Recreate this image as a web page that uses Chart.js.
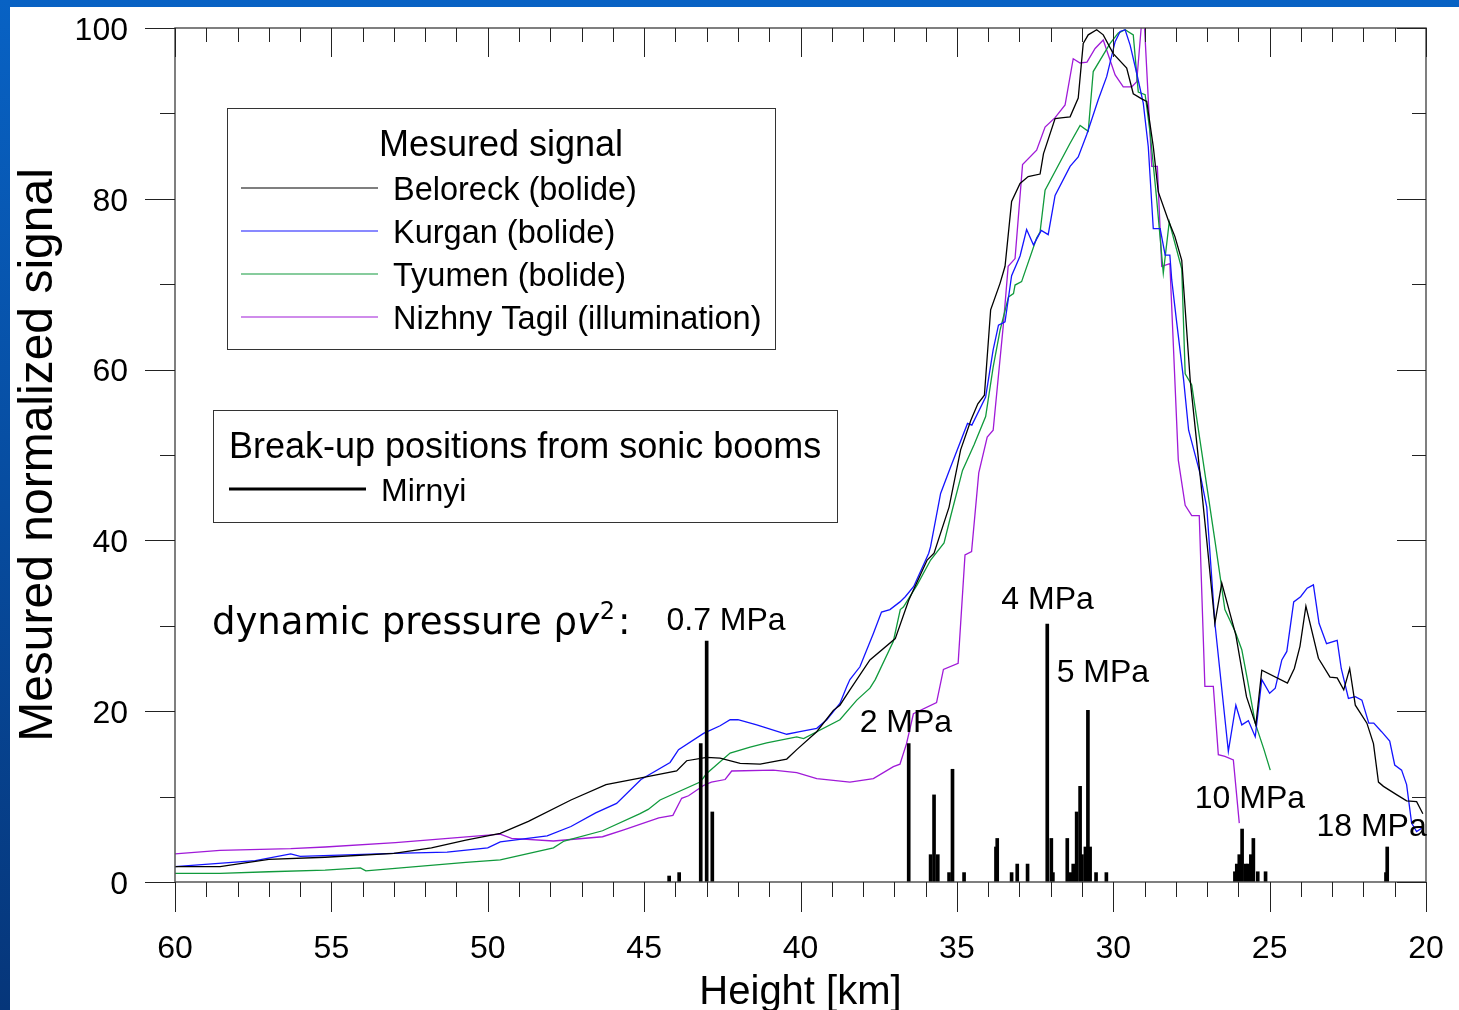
<!DOCTYPE html>
<html>
<head>
<meta charset="utf-8">
<title>Mesured normalized signal</title>
<script src="https://cdn.jsdelivr.net/npm/chart.js@4.4.0/dist/chart.umd.min.js"></script>
<style>
html,body{margin:0;padding:0;}
body{width:1459px;height:1010px;position:relative;overflow:hidden;background:linear-gradient(#0862c4,#06367a);}
#paper{position:absolute;left:10px;top:7px;right:0;bottom:0;background:#fff;}
#wrap{position:absolute;left:0;top:0;width:1459px;height:1010px;}
</style>
</head>
<body>
<div id="paper"></div>
<div id="wrap"><canvas id="myChart" width="1459" height="1010"></canvas></div>
<script>
// heights in km, signal in % of max
let belH = [60,58.56,57,55.2,53,51.8,50.7,49.6,48.7,47.34,46.22,45.1,43.96,43.64,43.0,42.57,41.93,41.29,40.44,40.12,39.48,38.95,38.74,38.42,37.78,36.97,36.54,35.95,35.73,35.25,34.88,34.55,34.33,34.12,33.92,33.62,33.46,33.25,32.98,32.72,32.34,32.23,31.86,31.6,31.38,31.12,30.96,30.8,30.53,30.32,30.0,29.57,29.36,29.09,28.93,28.72,28.56,28.24,28.03,27.81,27.54,27.23,27.01,26.75,26.53,26.08,25.74,25.44,25.25,24.43,24.21,24.03,23.84,23.44,23.07,22.84,22.63,22.44,22.26,21.89,21.68,21.52,21.36,20.93,20.62,20.3,20.1]
let belV = [1.8,1.8,2.65,2.9,3.35,4.0,4.9,5.7,7.1,9.6,11.4,12.2,13.0,14.2,14.6,14.5,13.9,13.8,14.4,15.5,17.6,20.1,20.7,22.5,26.0,28.5,33.0,37.7,38.5,43.9,50.6,54.1,56.0,57.0,67.0,70.1,72.1,79.7,81.8,82.6,82.9,85.3,89.4,89.5,89.6,91.8,98.2,99.2,99.8,99.2,97.0,95.3,92.3,91.7,91.4,86.1,80.8,77.5,75.6,72.8,58.8,47.9,40.0,30.3,35.0,28.9,21.7,18.4,24.8,23.3,25.0,27.6,32.3,26.2,24.0,23.9,22.5,25.0,20.7,18.6,16.2,11.7,11.2,10.2,9.5,9.4,8.0]

let kurH = [60,57.43,56.3,56.0,53,51.3,50.0,49.6,48.1,47.34,46.55,45.88,45.1,44.17,43.9,43.1,42.57,42.25,42.0,41.4,40.44,40.02,39.48,39.16,38.74,38.52,38.42,38.1,37.67,37.41,37.14,36.82,36.65,36.38,35.9,35.84,35.52,35.2,34.66,34.52,34.08,33.84,33.67,33.46,33.25,32.98,32.77,32.55,32.3,32.08,31.86,31.38,31.12,30.85,30.48,30.21,29.94,29.78,29.62,29.46,29.25,29.04,28.88,28.72,28.5,28.34,28.19,28.13,27.98,27.75,27.59,27.23,27.01,26.75,26.32,26.08,25.89,25.68,25.46,25.25,25.0,24.82,24.61,24.45,24.23,24.01,23.8,23.6,23.42,23.18,22.84,22.71,22.48,22.26,22.05,21.83,21.67,21.42,21.16,21.0,20.78,20.62,20.46,20.3,20.14]
let kurV = [1.8,2.5,3.3,3.0,3.35,3.5,4.0,4.7,5.4,6.5,8.1,9.2,12.0,14.0,15.5,17.4,18.3,19.0,19.0,18.4,17.3,17.6,18.0,19.0,20.9,22.9,23.7,25.2,29.1,31.6,31.9,32.8,33.4,34.6,38.5,39.3,45.5,48.6,53.7,53.5,56.8,62.3,65.2,65.6,71.0,73.3,76.4,74.6,76.3,75.8,80.4,83.8,84.9,87.5,91.6,94.3,98.4,99.6,99.8,98.0,94.7,91.2,86.1,76.5,76.5,73.4,73.4,70.5,65.8,58.8,52.9,47.9,43.9,30.3,15.3,20.7,18.4,18.9,17.0,23.7,22.1,22.7,26.0,27.0,32.8,33.4,34.4,34.8,30.3,27.9,28.3,25.0,21.5,21.7,21.3,18.6,18.6,17.6,16.5,13.7,13.1,11.4,6.9,5.9,6.3]

let tyuH = [60,58.56,57.0,55.2,54.07,53.9,50.7,49.6,47.9,47.56,46.33,45.13,44.87,44.49,43.21,43.0,42.25,41.61,41.08,40.12,39.9,38.74,38.2,37.78,37.61,37.03,36.81,36.71,36.27,35.84,35.41,35.2,34.82,34.45,34.08,33.84,33.62,33.35,33.19,33.14,32.93,32.45,32.34,32.18,31.38,31.06,30.8,30.64,30.1,29.84,29.62,29.36,29.2,28.98,28.82,28.61,28.4,28.21,27.81,27.7,27.49,27.23,26.75,26.43,26.1,25.89,25.71,25.46,25.18,24.98]
let tyuV = [1.0,1.0,1.2,1.4,1.65,1.3,2.3,2.6,4.0,4.8,6.0,8.0,8.5,9.6,11.7,12.7,15.1,15.8,16.3,17.0,16.8,19.0,21.3,22.7,23.7,28.2,31.9,32.2,34.8,37.7,39.7,42.8,48.2,51.2,54.5,60.3,64.6,68.5,68.9,69.9,70.3,75.4,76.1,81.0,86.5,88.6,87.9,94.9,98.2,99.4,99.8,99.2,92.5,92.2,87.7,79.9,71.3,77.3,71.8,59.5,58.2,51.8,40.0,31.9,29.3,27.2,23.7,18.6,15.5,13.1]

let tagH = [60,58.56,56.3,55.2,52.95,51.27,49.6,49.24,47.9,46.33,45.65,44.53,44.08,43.8,43.58,43.1,42.85,42.41,42.2,40.87,40.12,39.48,38.42,37.67,37.03,36.82,36.61,36.39,35.65,35.43,34.96,34.74,34.53,34.3,34.03,33.84,33.52,33.36,33.14,32.9,32.45,32.18,31.86,31.54,31.28,31.06,30.84,30.58,30.32,29.94,29.68,29.41,29.25,29.04,28.77,28.59,28.45,28.19,27.92,27.7,27.49,27.25,27.07,26.8,26.64,26.43,26.16,25.97]
let tagV = [3.3,3.7,3.9,4.1,4.6,5.1,5.6,5.1,4.8,5.3,6.1,7.5,7.8,9.8,10.1,11.3,11.7,12.0,13.0,13.1,12.8,12.1,11.7,12.1,13.5,13.8,16.2,19.7,21.0,24.9,25.6,38.3,38.7,47.9,52.1,52.9,65.0,72.1,73.0,84.0,85.7,88.4,89.5,91.0,96.4,95.9,96.0,97.6,98.6,94.5,93.1,93.1,93.7,103,83.8,83.8,72.1,72.4,49.4,44.1,42.9,42.9,22.9,22.9,14.9,14.7,14.3,6.9]

// break-up positions (Mirnyi)
let mirH = [44.2,43.88,43.19,43.0,42.82,36.54,35.84,35.73,35.61,35.25,35.14,34.77,33.75,33.71,33.25,33.07,32.74,32.11,31.98,31.93,31.47,31.36,31.28,31.17,31.06,31.0,30.89,30.81,30.74,30.55,30.22,26.11,26.05,25.97,25.88,25.77,25.68,25.6,25.52,25.38,25.13,21.28,21.24]
let mirV = [0.7,1.1,16.2,28.2,8.2,16.2,3.2,10.2,3.2,1.1,13.2,1.1,4.1,5.1,1.1,2.1,2.1,30.2,5.1,1.1,5.1,1.1,2.1,8.2,11.2,3.2,4.1,20.1,4.1,1.1,1.1,1.2,2.1,3.2,6.2,2.1,2.1,3.2,5.1,1.2,1.2,1.1,4.1]

let pressText = ['0.7 MPa','2 MPa','4 MPa','5 MPa','10 MPa','18 MPa']
let pressH = [42.38,36.63,32.10,30.33,25.63,21.74]
let pressV = [30.55,18.6,33.05,24.45,9.75,6.42]

let xTickStep = 5
let yTickStep = 20

const FONT = '"Liberation Sans", Arial, Helvetica, sans-serif'
Chart.defaults.font.family = FONT
Chart.defaults.color = '#000'

let pares = (hs, vs) => hs.map((h, i) => ({x: h, y: vs[i]}))

let serie = (label, hs, vs, color) => ({
    type: 'line',
    label: label,
    data: pares(hs, vs),
    borderColor: color,
    backgroundColor: color,
    borderWidth: 1.3,
    pointRadius: 0,
    tension: 0,
    fill: false,
    order: 1
})

let sinPadding = (s) => {
    s.paddingTop = 0
    s.paddingBottom = 0
    s.paddingLeft = 0
    s.paddingRight = 0
}

const decor = {
    id: 'decor',
    afterDraw(chart) {
        const ctx = chart.ctx
        const a = chart.chartArea
        const xs = chart.scales.x
        const ys = chart.scales.y
        ctx.save()
        // frame
        ctx.strokeStyle = '#555'
        ctx.lineWidth = 1.5
        ctx.strokeRect(a.left, a.top, a.right - a.left, a.bottom - a.top)
        // ticks
        ctx.strokeStyle = '#222'
        ctx.lineWidth = 1
        ctx.beginPath()
        for (let h = xs.min; h <= xs.max; h++) {
            const px = Math.round(xs.getPixelForValue(h)) + 0.5
            const big = h % 5 === 0
            ctx.moveTo(px, a.bottom); ctx.lineTo(px, a.bottom + (big ? 30 : 15))
            ctx.moveTo(px, a.top); ctx.lineTo(px, a.top + (big ? 29 : 14))
        }
        for (let v = ys.min; v <= ys.max; v += 10) {
            const py = Math.round(ys.getPixelForValue(v)) + 0.5
            const big = v % 20 === 0
            ctx.moveTo(a.left - (big ? 30 : 15), py); ctx.lineTo(a.left, py)
            ctx.moveTo(a.right - (big ? 29 : 14), py); ctx.lineTo(a.right, py)
        }
        ctx.stroke()

        // legend 1
        const ds = chart.data.datasets
        ctx.strokeStyle = '#333'
        ctx.lineWidth = 1
        ctx.strokeRect(227.5, 108.5, 548, 241)
        ctx.fillStyle = '#000'
        ctx.textBaseline = 'middle'
        ctx.textAlign = 'center'
        ctx.font = '36px ' + FONT
        ctx.fillText('Mesured signal', 501, 146)
        ctx.textAlign = 'left'
        ctx.font = '32.5px ' + FONT
        for (let i = 0; i < 4; i++) {
            const yy = 188 + i * 43
            ctx.strokeStyle = ds[i].borderColor
            ctx.lineWidth = 1.2
            ctx.beginPath(); ctx.moveTo(241, yy); ctx.lineTo(378, yy); ctx.stroke()
            ctx.fillText(ds[i].label, 393, yy + 3)
        }
        // legend 2
        ctx.strokeStyle = '#333'
        ctx.lineWidth = 1
        ctx.strokeRect(213.5, 410.5, 624, 112)
        ctx.font = '36px ' + FONT
        ctx.fillText('Break-up positions from sonic booms', 229, 448)
        ctx.strokeStyle = '#000'
        ctx.lineWidth = 3
        ctx.beginPath(); ctx.moveTo(229, 489); ctx.lineTo(366, 489); ctx.stroke()
        ctx.font = '32px ' + FONT
        ctx.fillText(ds[4].label, 381, 492)

        // pressure labels
        ctx.textAlign = 'center'
        for (let i = 0; i < pressText.length; i++) {
            ctx.fillText(pressText[i], xs.getPixelForValue(pressH[i]), ys.getPixelForValue(pressV[i]))
        }
        // dynamic pressure
        ctx.textAlign = 'left'
        let x0 = xs.getPixelForValue(58.82)
        const y0 = ys.getPixelForValue(30.15)
        ctx.font = '37px "DejaVu Sans", sans-serif'
        const t1 = 'dynamic pressure \u03C1'
        ctx.fillText(t1, x0, y0)
        x0 += ctx.measureText(t1).width
        ctx.font = 'italic 37px "DejaVu Sans", sans-serif'
        ctx.fillText('v', x0, y0)
        x0 += ctx.measureText('v').width + 1
        ctx.font = '24px "DejaVu Sans", sans-serif'
        ctx.fillText('2', x0, y0 - 12)
        x0 += ctx.measureText('2').width + 3
        ctx.font = '37px "DejaVu Sans", sans-serif'
        ctx.fillText(':', x0, y0)
        ctx.restore()
    }
}

const config = {
    type: 'line',
    data: {
        datasets: [
            serie('Beloreck (bolide)', belH, belV, '#000000'),
            serie('Kurgan (bolide)', kurH, kurV, '#1414ff'),
            serie('Tyumen (bolide)', tyuH, tyuV, '#109a3c'),
            serie('Nizhny Tagil (illumination)', tagH, tagV, '#a01ad8'),
            {
                type: 'bar',
                label: 'Mirnyi',
                data: pares(mirH, mirV),
                backgroundColor: '#000',
                borderWidth: 0,
                barThickness: 3,
                order: 0
            }
        ]
    },
    options: {
        responsive: false,
        animation: false,
        events: [],
        layout: {padding: {top: 28, right: 33, left: 0, bottom: 0}},
        plugins: {legend: {display: false}, tooltip: {enabled: false}},
        scales: {
            x: {
                type: 'linear',
                min: 20, max: 60,
                reverse: true,
                offset: false,
                grid: {display: false, drawTicks: false},
                border: {display: false},
                ticks: {stepSize: xTickStep, padding: 48, maxRotation: 0, autoSkip: false, font: {size: 32}},
                title: {display: true, text: 'Height [km]', font: {size: 40, lineHeight: 0.8}, padding: {top: 0, bottom: 1}},
                afterFit: (s) => { s.height = 128; sinPadding(s) }
            },
            y: {
                type: 'linear',
                min: 0, max: 100,
                grid: {display: false, drawTicks: false},
                border: {display: false},
                ticks: {stepSize: yTickStep, padding: 47, labelOffset: 3, font: {size: 32}},
                title: {display: true, text: 'Mesured normalized signal', font: {size: 48, lineHeight: 1}, padding: {top: 15, bottom: 0}},
                afterFit: (s) => { s.width = 175; sinPadding(s) }
            }
        }
    },
    plugins: [decor]
}

var myChart = new Chart(document.getElementById('myChart'), config)
</script>
</body>
</html>
